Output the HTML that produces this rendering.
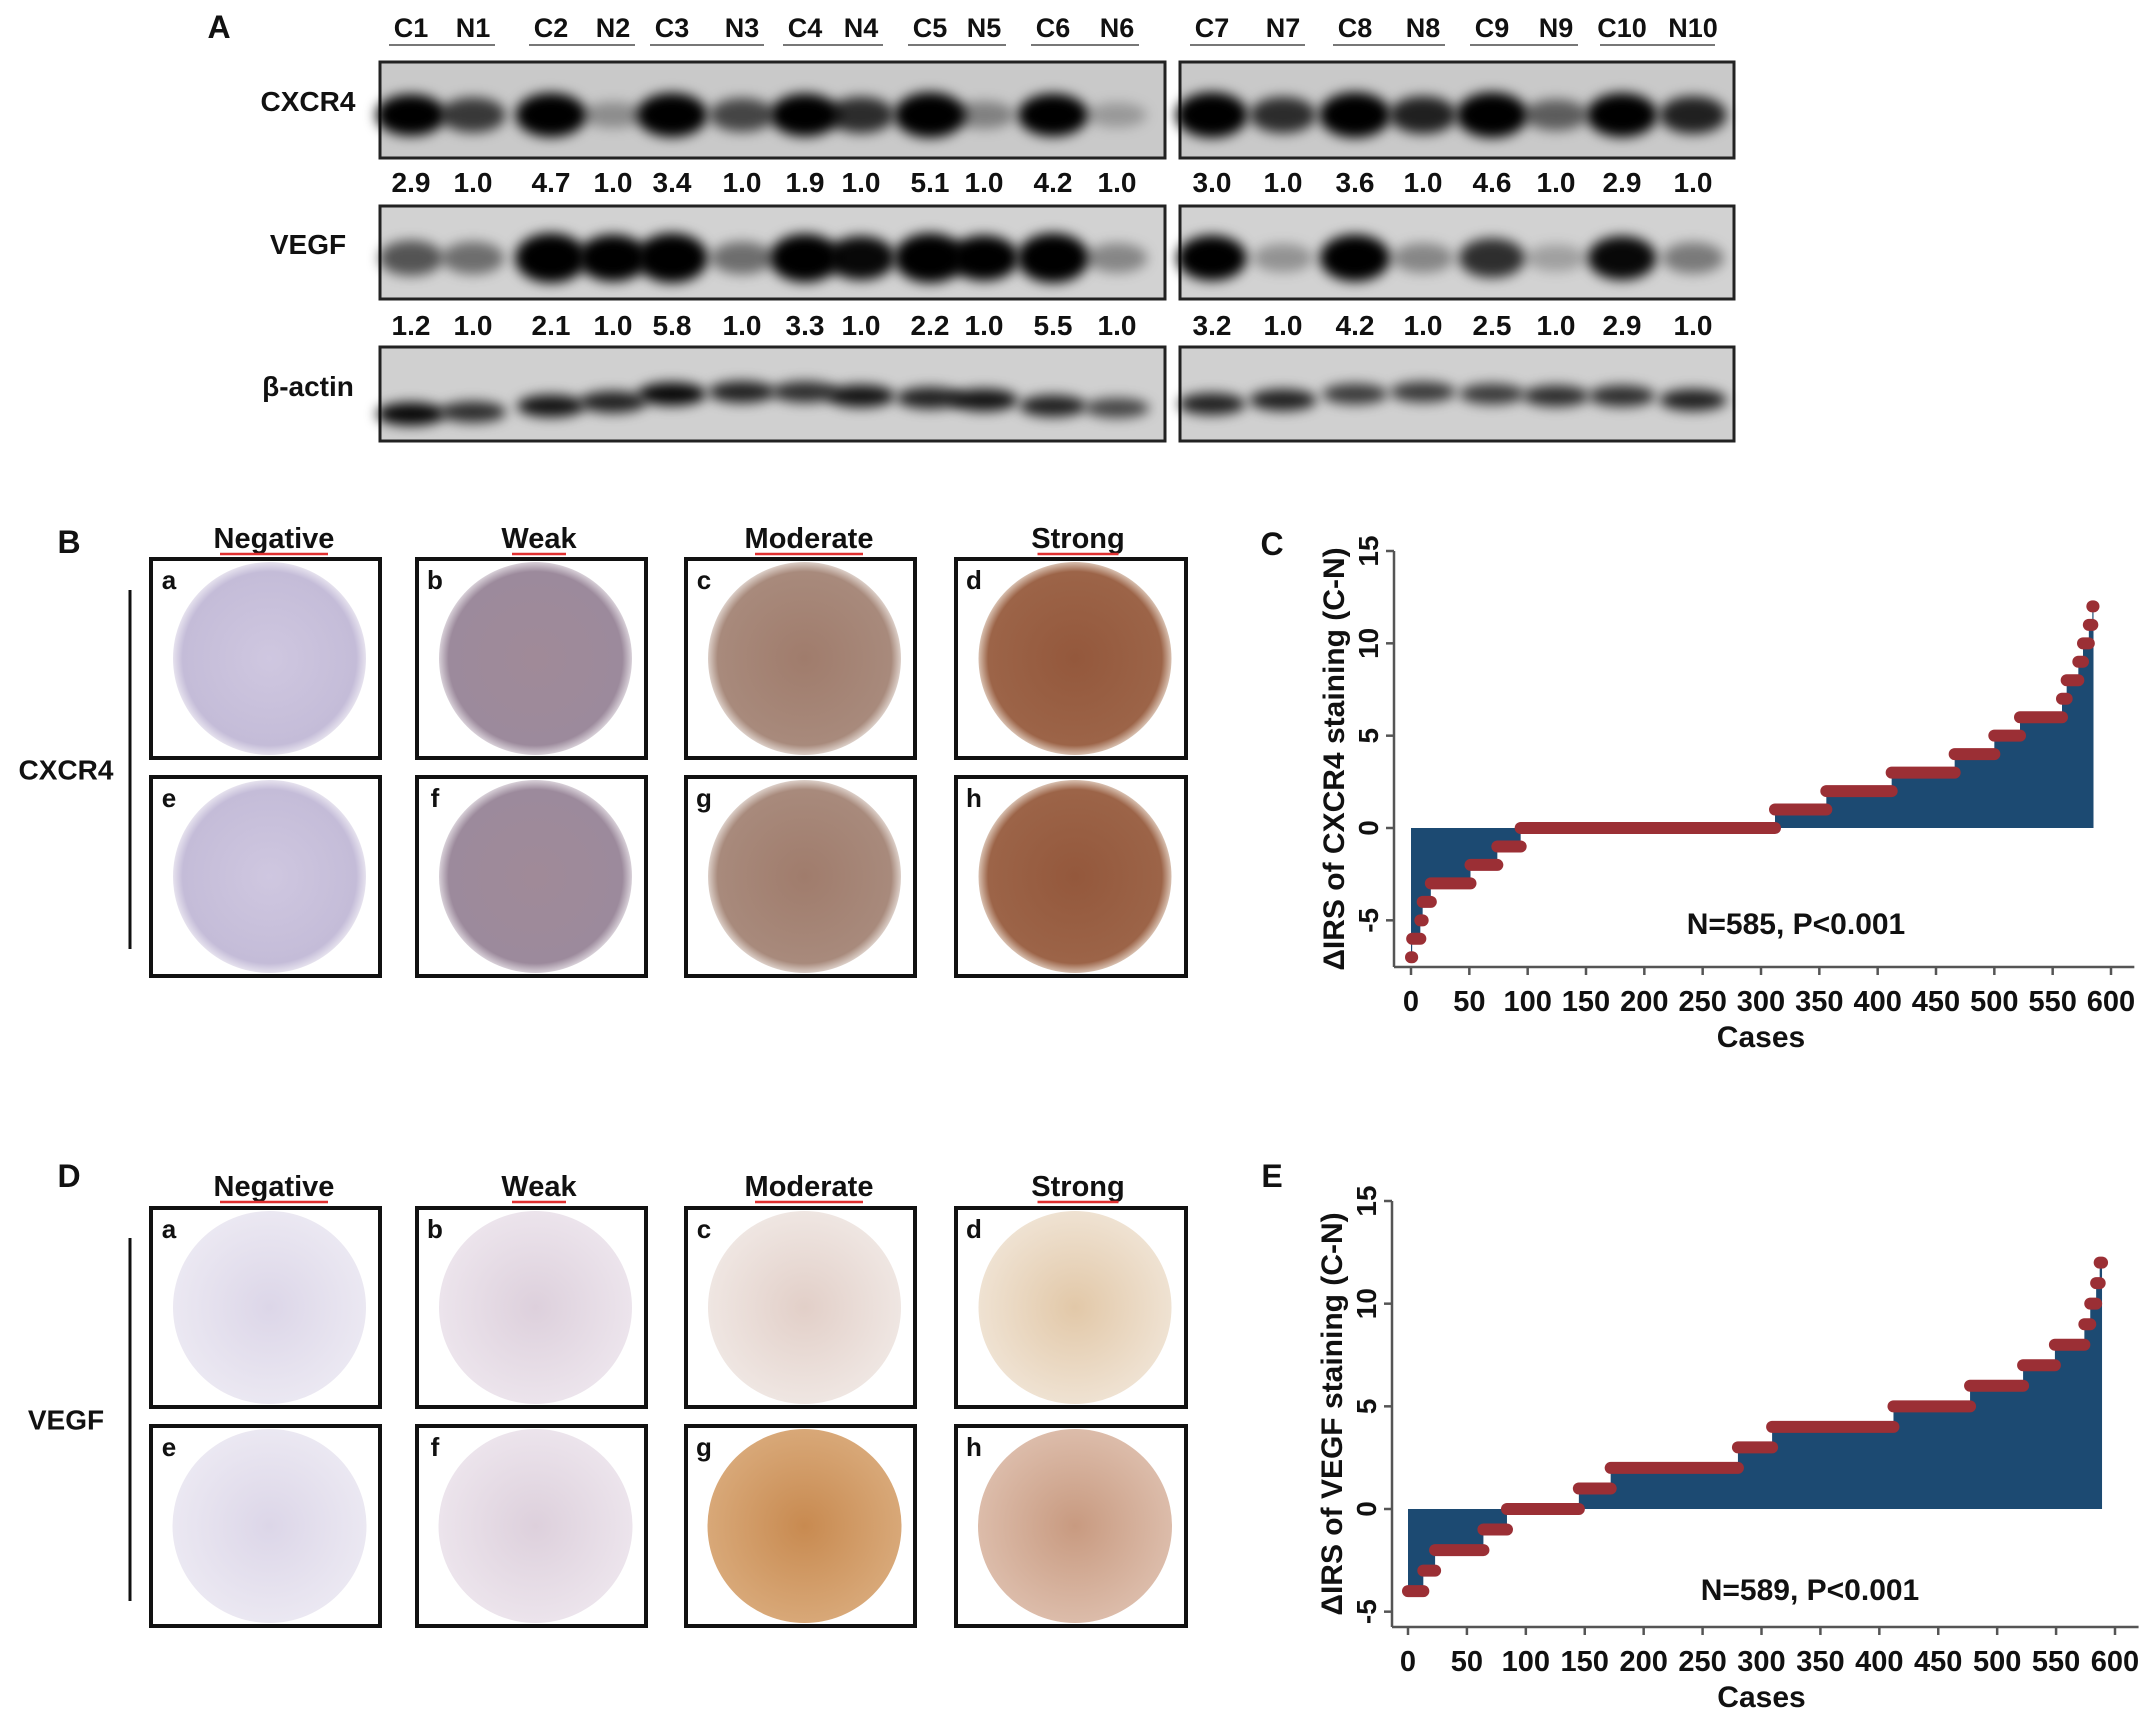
<!DOCTYPE html>
<html><head><meta charset="utf-8"><style>
html,body{margin:0;padding:0;background:#fff;}
svg{display:block;}
text{font-family:"Liberation Sans Narrow","Liberation Sans",sans-serif;font-weight:bold;fill:#111;}
</style></head><body>
<svg id="fig" width="2150" height="1716" viewBox="0 0 2150 1716" xmlns="http://www.w3.org/2000/svg">
<defs>
<filter id="blur6" x="-50%" y="-80%" width="200%" height="260%"><feGaussianBlur stdDeviation="6"/></filter>
<radialGradient id="neg" cx="50%" cy="50%" r="50%"><stop offset="0" stop-color="#cfc7e0"/><stop offset="0.9" stop-color="#c4bcd8"/><stop offset="1" stop-color="#e6e2ee"/></radialGradient>
<radialGradient id="weak" cx="50%" cy="50%" r="50%"><stop offset="0" stop-color="#a08a98"/><stop offset="0.9" stop-color="#9c8a9c"/><stop offset="1" stop-color="#d8d0d8"/></radialGradient>
<radialGradient id="mod" cx="50%" cy="50%" r="50%"><stop offset="0" stop-color="#a07c6c"/><stop offset="0.9" stop-color="#a88a7c"/><stop offset="1" stop-color="#dccfc8"/></radialGradient>
<radialGradient id="str" cx="50%" cy="50%" r="50%"><stop offset="0" stop-color="#94583c"/><stop offset="0.9" stop-color="#9c6448"/><stop offset="1" stop-color="#d8c0b0"/></radialGradient>
<radialGradient id="vneg" cx="50%" cy="50%" r="50%"><stop offset="0" stop-color="#dcd6e8"/><stop offset="1" stop-color="#ebe8f2"/></radialGradient>
<radialGradient id="vweak" cx="50%" cy="50%" r="50%"><stop offset="0" stop-color="#ddd0dc"/><stop offset="1" stop-color="#ece4ec"/></radialGradient>
<radialGradient id="vmod" cx="50%" cy="50%" r="50%"><stop offset="0" stop-color="#e2cfc8"/><stop offset="1" stop-color="#efe6e2"/></radialGradient>
<radialGradient id="vstr" cx="50%" cy="50%" r="50%"><stop offset="0" stop-color="#e2c8a8"/><stop offset="1" stop-color="#efe2d2"/></radialGradient>
<radialGradient id="vmodg" cx="50%" cy="50%" r="50%"><stop offset="0" stop-color="#c88a50"/><stop offset="1" stop-color="#d8a878"/></radialGradient>
<radialGradient id="vstrh" cx="50%" cy="50%" r="50%"><stop offset="0" stop-color="#c89a80"/><stop offset="1" stop-color="#dcbcaa"/></radialGradient>
</defs>
</svg>
<script>
var NS='http://www.w3.org/2000/svg';
var svg=document.getElementById('fig');
function mk(tag,attrs,parent){var e=document.createElementNS(NS,tag);for(var k in attrs)e.setAttribute(k,attrs[k]);(parent||svg).appendChild(e);return e;}
function txt(x,y,s,size,anchor,parent){var t=mk('text',{x:x,y:y,'font-size':size,'text-anchor':anchor||'middle'},parent);t.textContent=s;return t;}

/* ---------- Panel A: western blot ---------- */
var laneLabels=['C1','N1','C2','N2','C3','N3','C4','N4','C5','N5','C6','N6','C7','N7','C8','N8','C9','N9','C10','N10'];
var laneX=[411,473,551,613,672,742,805,861,930,984,1053,1117,1212,1283,1355,1423,1492,1556,1622,1693];
var cxcr4Vals=['2.9','1.0','4.7','1.0','3.4','1.0','1.9','1.0','5.1','1.0','4.2','1.0','3.0','1.0','3.6','1.0','4.6','1.0','2.9','1.0'];
var vegfVals=['1.2','1.0','2.1','1.0','5.8','1.0','3.3','1.0','2.2','1.0','5.5','1.0','3.2','1.0','4.2','1.0','2.5','1.0','2.9','1.0'];
var cxcr4Band=[0.85,0.6,0.95,0.25,0.95,0.55,0.9,0.65,1,0.3,0.9,0.2,1,0.65,1,0.7,1,0.45,0.95,0.7];
var vegfBand=[0.5,0.4,1,0.9,1,0.4,0.95,0.8,1,0.85,1,0.3,0.85,0.25,0.9,0.3,0.65,0.2,0.8,0.35];
var actinBand=[0.8,0.65,0.75,0.7,0.8,0.7,0.65,0.75,0.7,0.75,0.7,0.55,0.7,0.7,0.6,0.6,0.6,0.65,0.65,0.7];
var actinOff=[14,12,6,2,-6,-8,-8,-4,-2,0,6,8,4,0,-6,-8,-6,-4,-4,0];

var g=mk('g',{});


txt(219,38,'A',32,'middle',g);
laneLabels.forEach(function(l,i){
  var t=txt(laneX[i],37,l,27,'middle',g);
  
  
});
var pairs=[[0,1],[2,3],[4,5],[6,7],[8,9],[10,11],[12,13],[14,15],[16,17],[18,19]];
pairs.forEach(function(p){mk('line',{x1:laneX[p[0]]-22,x2:laneX[p[1]]+22,y1:45,y2:45,stroke:'#777','stroke-width':2},g);});
var rows=[{n:'CXCR4',y0:62,y1:158,band:cxcr4Band,cy:115,h:34,bg:'#c9c9c9'},{n:'VEGF',y0:206,y1:299,band:vegfBand,cy:258,h:38,bg:'#d2d2d2'},{n:'β-actin',y0:347,y1:441,band:actinBand,cy:400,h:16,bg:'#d0d0d0'}];
rows.forEach(function(r,ri){
  var lab=txt(308,r.cy-4,r.n,28,'middle',g);
  
  
  [[380,1165,0,12],[1180,1734,12,20]].forEach(function(pn){
    mk('rect',{x:pn[0],y:r.y0,width:pn[1]-pn[0],height:r.y1-r.y0,fill:r.bg,stroke:'#222','stroke-width':3},g);
    for(var i=pn[2];i<pn[3];i++){
      var v=r.band[i];
      var off=ri==2?actinOff[i]:0;
      var e=mk('ellipse',{cx:laneX[i],cy:r.cy+off,rx:28+v*8,ry:r.h*(0.35+v*0.75)/2+4,fill:'#000','fill-opacity':Math.min(1,v*1.2),filter:'url(#blur6)'},g);
      
      
    }
  });
});
laneX.forEach(function(x,i){
  txt(x,192,cxcr4Vals[i],28,'middle',g);
  txt(x,335,vegfVals[i],28,'middle',g);
});

/* ---------- Panels B & D: IHC ---------- */
function ihcPanel(letter,ly,marker,hy,rowsY,vline,fills){
  var p=mk('g',{});
  
  
  txt(69,ly,letter,32,'middle',p);
  var heads=['Negative','Weak','Moderate','Strong'];
  var hx=[274,539,809,1078];
  var bx=[[151,380],[417,646],[686,915],[956,1186]];
  heads.forEach(function(h,i){
    var t=txt(hx[i],hy,h,29,'middle',p);
    
    
    var w=h.length*13.5;
    mk('line',{x1:hx[i]-w/2,x2:hx[i]+w/2,y1:hy+6,y2:hy+6,stroke:'#e03030','stroke-width':2.5},p);
  });
  mk('line',{x1:130,x2:130,y1:vline[0],y2:vline[1],stroke:'#111','stroke-width':3},p);
  txt(66,(vline[0]+vline[1])/2+10,marker,28,'middle',p);
  var letters='abcdefgh';
  rowsY.forEach(function(ry,r){
    bx.forEach(function(b,c){
      var idx=r*4+c;
      mk('rect',{x:b[0],y:ry[0],width:b[1]-b[0],height:ry[1]-ry[0],fill:'#fff',stroke:'#111','stroke-width':4},p);
      var rad=(ry[1]-ry[0])/2-3;
      var ci=mk('circle',{cx:(b[0]+b[1])/2+4,cy:(ry[0]+ry[1])/2,r:rad,fill:'url(#'+fills[idx]+')'},p);
      
      
      txt(b[0]+18,ry[0]+30,letters[idx],26,'middle',p);
    });
  });
}
ihcPanel('B',553,'CXCR4',548,[[559,758],[777,976]],[590,949],['neg','weak','mod','str','neg','weak','mod','str']);
ihcPanel('D',1187,'VEGF',1196,[[1208,1407],[1426,1626]],[1238,1601],['vneg','vweak','vmod','vstr','vneg','vweak','vmodg','vstrh']);

/* ---------- Charts C & E ---------- */
var cxcr4Levels=[-7,-6,-5,-4,-3,-2,-1,0,1,2,3,4,5,6,7,8,9,10,11,12];
var cxcr4Counts=[1,7,2,7,34,23,20,218,44,56,54,34,22,36,4,10,4,5,3,1];
var vegfLevels=[-4,-3,-2,-1,0,1,2,3,4,5,6,7,8,9,10,11,12];
var vegfCounts=[13,10,41,20,61,27,108,29,103,65,45,27,25,5,5,3,2];
var xTicks=[0,50,100,150,200,250,300,350,400,450,500,550,600];
var yTicks=[-5,0,5,10,15];

function chart(id,letter,levels,counts,o){
  var p=mk('g',{});
  
  
  var X=function(v){return o.x0+(v-0)*(o.x600-o.x0)/600;};
  var Y=function(v){return o.y0+(v-0)*(o.y15-o.y0)/15;};
  txt(o.lx,o.ly,letter,32,'middle',p);
  var d='M'+X(0)+','+Y(0);var cum=0;
  levels.forEach(function(l,i){d+=' L'+X(cum)+','+Y(l);cum+=counts[i];d+=' L'+X(cum)+','+Y(l);});
  d+=' L'+X(cum)+','+Y(0)+' Z';
  var f=mk('path',{d:d,fill:'#1c4a72'},p);
  
  
  cum=0;
  levels.forEach(function(l,i){
    var s=mk('line',{x1:X(cum),x2:X(cum+counts[i]),y1:Y(l),y2:Y(l),stroke:'#9b2f35','stroke-width':12,'stroke-linecap':'round'},p);
    
    
    cum+=counts[i];
  });
  var ya=mk('line',{x1:o.ax,x2:o.ax,y1:Y(15),y2:o.yb,stroke:'#555','stroke-width':2.5},p);
  
  
  yTicks.forEach(function(t){
    mk('line',{x1:o.ax-8,x2:o.ax,y1:Y(t),y2:Y(t),stroke:'#555','stroke-width':2.5},p);
    var tt=txt(o.ax-16,Y(t),String(t),28,'middle',p);
    tt.setAttribute('transform','rotate(-90 '+(o.ax-16)+' '+Y(t)+')');
  });
  var xa=mk('line',{x1:o.ax,x2:X(620),y1:o.yb,y2:o.yb,stroke:'#555','stroke-width':2.5},p);
  
  
  xTicks.forEach(function(t){
    mk('line',{x1:X(t),x2:X(t),y1:o.yb,y2:o.yb+8,stroke:'#555','stroke-width':2.5},p);
    txt(X(t),o.yb+44,String(t),29,'middle',p);
  });
  var xt=txt((X(0)+X(600))/2,o.yb+80,'Cases',30,'middle',p);
  
  
  var yc=(Y(15)+o.yb)/2;
  var yt=txt(o.ax-50,yc,o.ytitle,30,'middle',p);
  yt.setAttribute('transform','rotate(-90 '+(o.ax-50)+' '+yc+')');
  
  
  var an=txt(o.nx,o.ny,o.note,30,'middle',p);
  
  
}
chart('panel-c-cxcr4-chart','C',cxcr4Levels,cxcr4Counts,{x0:1411,x600:2111,y0:828,y15:551,ax:1394,yb:967,lx:1272,ly:555,ytitle:'ΔIRS of CXCR4 staining (C-N)',note:'N=585, P<0.001',nx:1796,ny:934});
chart('panel-e-vegf-chart','E',vegfLevels,vegfCounts,{x0:1408,x600:2115,y0:1509,y15:1201,ax:1392,yb:1627,lx:1272,ly:1187,ytitle:'ΔIRS of VEGF staining (C-N)',note:'N=589, P<0.001',nx:1810,ny:1600});
</script>
</body></html>
